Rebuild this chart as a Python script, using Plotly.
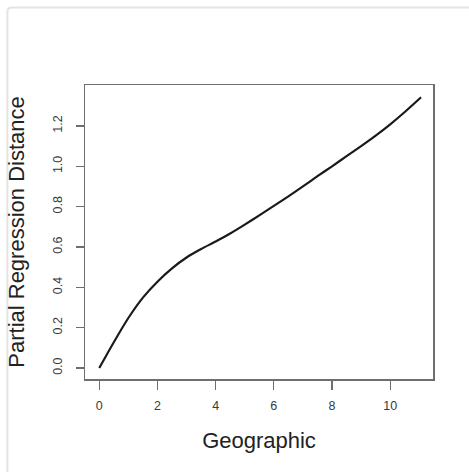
import plotly.graph_objects as go

# Data
geographic = [0, 0.5, 1.0, 1.5, 2.0, 2.5, 3.0, 3.5, 4.0, 4.5, 5.0, 5.5, 6.0, 6.5, 7.0,
              7.5, 8.0, 8.5, 9.0, 9.5, 10.0, 10.5, 11.06]
partial_dist = [0, 0.128, 0.248, 0.349, 0.428, 0.494, 0.548, 0.590, 0.627, 0.667, 0.711, 0.757,
                0.804, 0.851, 0.900, 0.951, 1.000, 1.050, 1.100, 1.152, 1.208, 1.269, 1.342]

x_ticks = [0, 2, 4, 6, 8, 10]
y_ticks = [0.0, 0.2, 0.4, 0.6, 0.8, 1.0, 1.2]
y_tick_labels = ["0.0", "0.2", "0.4", "0.6", "0.8", "1.0", "1.2"]

FONT = "Liberation Sans, Arial, Helvetica, sans-serif"
BOX = "#6e6e6e"

fig = go.Figure()
fig.add_trace(go.Scatter(
    x=geographic, y=partial_dist, mode="lines",
    line=dict(color="#1a1a1a", width=2.2, shape="spline", smoothing=0.8),
    hoverinfo="skip", showlegend=False,
))

fig.update_layout(
    width=469, height=472,
    margin=dict(l=85, r=36, t=85, b=93),
    paper_bgcolor="white", plot_bgcolor="white",
    font=dict(family=FONT, color="#333"),
    showlegend=False,
    xaxis=dict(
        range=[-0.49, 11.47], tickvals=x_ticks, ticktext=[str(v) for v in x_ticks],
        showgrid=False, zeroline=False, showline=True, mirror=True,
        linecolor=BOX, linewidth=1.5, ticks="outside", ticklen=9, tickwidth=1.3,
        tickcolor=BOX, tickfont=dict(size=12.5, color="#3a3a3a"),
        ticklabelstandoff=5,
        title=dict(text="Geographic", font=dict(size=22, color="#222"), standoff=21),
        automargin=False,
    ),
    yaxis=dict(
        range=[-0.0545, 1.403], tickvals=y_ticks, ticktext=y_tick_labels,
        showgrid=False, zeroline=False, showline=True, mirror=True,
        linecolor=BOX, linewidth=1.5, ticks="outside", ticklen=8, tickwidth=1.3,
        tickcolor=BOX, tickfont=dict(size=12.5, color="#3a3a3a"), tickangle=-90,
        ticklabelstandoff=9,
        title=dict(text="Partial Regression Distance", font=dict(size=22, color="#222"), standoff=20),
        automargin=False,
    ),
    shapes=[dict(
        type="path", xref="paper", yref="paper",
        path="M -0.223,-0.33 L -0.223,1.25 Q -0.223,1.264 -0.209,1.264 L 1.12,1.264",
        line=dict(color="#e4e4e4", width=2),
    )],
)

fig.write_html(
    "out.html",
    config={"displayModeBar": False, "staticPlot": True},
    post_script="document.body.style.margin='0';document.body.style.overflow='hidden';",
)
